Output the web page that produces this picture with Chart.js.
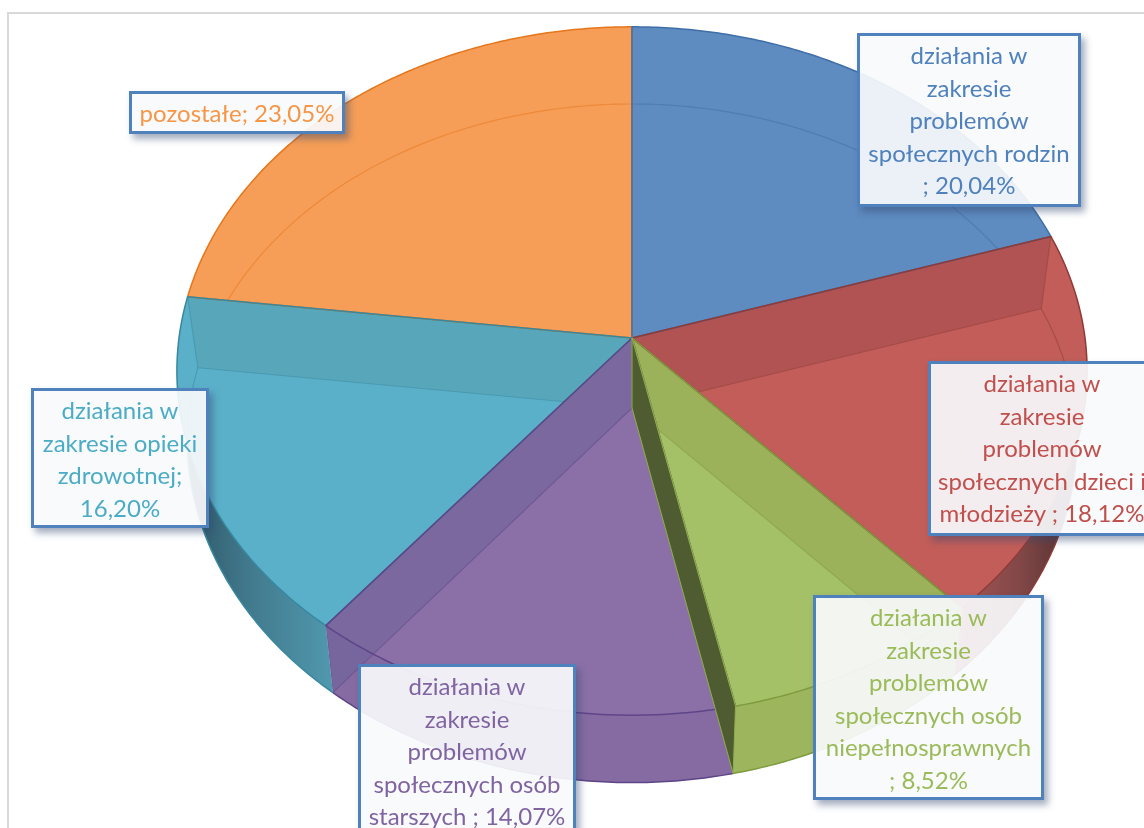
<!DOCTYPE html>
<html lang="pl">
<head>
<meta charset="utf-8">
<title>Struktura działań</title>
<script src="https://cdn.jsdelivr.net/npm/chart.js@4"></script>
<style>
html,body{margin:0;padding:0;background:#fff;overflow:hidden;width:1144px;height:828px}
#wrap{position:relative;width:1144px;height:828px;overflow:hidden}
#frame{position:absolute;left:7px;top:12px;width:1200px;height:900px;border:2px solid #D9D9D9;box-sizing:border-box}
canvas{position:absolute;left:0;top:0}
.lbl{position:absolute;box-sizing:border-box;border:3px solid #4F81BD;background:rgba(248,250,252,.92);
 box-shadow:4px 5px 7px rgba(50,70,110,.45);text-align:center;white-space:pre;
 font:24px/32.6px Lato,sans-serif;padding-top:3px}
</style>
</head>
<body>
<div id="wrap">
<div id="frame"></div>
<canvas id="c" width="1144" height="828"></canvas>
</div>
<script>
// ---- data ----
const categories = [
  "działania w\nzakresie\nproblemów\nspołecznych rodzin\n; ",
  "działania w\nzakresie\nproblemów\nspołecznych dzieci i\nmłodzieży ; ",
  "działania w\nzakresie\nproblemów\nspołecznych osób\nniepełnosprawnych\n; ",
  "działania w\nzakresie\nproblemów\nspołecznych osób\nstarszych ; ",
  "działania w\nzakresie opieki\nzdrowotnej;\n",
  "pozostałe; "
];
const shares = [20.04, 18.12, 8.52, 14.07, 16.20, 23.05];

// ---- styles ----
const faceColors = ["#5E8BC0", "#C25D59", "#A5C167", "#8B70A7", "#5BB0C9", "#F69E57"];
const edgeColors = ["#3F6FA8", "#8E3B38", "#7E9C3E", "#5E4488", "#37889F", "#E5761B"];
const wallColors = ["#557FB0", "#A05555", "#9DB65E", "#856BA2", "#4F95AB", "#E08A45"];
const textColors = ["#4F81BD", "#C0504D", "#9BBB59", "#8064A2", "#4BACC6", "#F79646"];
const outlineOrder = [5, 0, 1, 4, 3, 2];
const boxes = [
  {l:857, t:33,  w:224, h:174},
  {l:928, t:361, w:228, h:175},
  {l:813, t:595, w:231, h:205},
  {l:358, t:664, w:218, h:175},
  {l:31,  t:388, w:178, h:140},
  {l:129, t:91,  w:216, h:43}
];

// perspective of the tilted disc
const CX = 632, CY = 338, RX = 453, RY = 341, PERSP = -0.0959, DEPTH = 70, SHRINK = 0.023;
function project(angle, t, f) {
  const u = Math.cos(angle) * f, v = Math.sin(angle) * f, w = 1 + PERSP * v;
  const sx = 1 - SHRINK * t, sy = 1 - SHRINK * t * (1 - 0.7 * Math.max(0, v));
  return [CX + sx * RX * u / w, CY + DEPTH * t + sy * RY * v / w];
}
function rim(ctx, from, to, t, first) {
  const n = Math.max(2, Math.ceil(Math.abs(to - from) / 0.01));
  for (let i = 0; i <= n; i++) {
    const p = project(from + (to - from) * i / n, t, 1);
    if (i === 0 && first) ctx.moveTo(p[0], p[1]); else ctx.lineTo(p[0], p[1]);
  }
}
function topPath(ctx, a) {
  const c = project(0, 0, 0);
  ctx.beginPath(); ctx.moveTo(c[0], c[1]);
  rim(ctx, a.startAngle, a.endAngle, 0, false);
  ctx.closePath();
}
function wallPath(ctx, a) {
  ctx.beginPath();
  rim(ctx, a.startAngle, a.endAngle, 0, true);
  rim(ctx, a.endAngle, a.startAngle, 1, false);
  ctx.closePath();
}
function quad(ctx, angle) {
  const p0 = project(0, 0, 0), p1 = project(angle, 0, 1), p2 = project(angle, 1, 1), p3 = project(0, 1, 0);
  ctx.beginPath(); ctx.moveTo(p0[0], p0[1]); ctx.lineTo(p1[0], p1[1]); ctx.lineTo(p2[0], p2[1]); ctx.lineTo(p3[0], p3[1]); ctx.closePath();
}
function wallFill(ctx, i) {
  if (i === 4) { const g = ctx.createLinearGradient(190, 0, 335, 0);
    g.addColorStop(0, "#2F5A69"); g.addColorStop(.4, "#41798C"); g.addColorStop(1, "#5199AF"); return g; }
  if (i === 1) { const g = ctx.createLinearGradient(960, 0, 1075, 0);
    g.addColorStop(0, "#A55656"); g.addColorStop(.55, "#804646"); g.addColorStop(1, "#4F2F2F"); return g; }
  return wallColors[i];
}
// which radial faces show through the slice
const seeThrough = [{i:1, edge:"startAngle", c:"rgb(158,73,75)"}, {i:2, edge:"startAngle", c:"rgb(145,161,77)"},
                    {i:3, edge:"endAngle", c:"rgb(105,96,151)"}, {i:4, edge:"endAngle", c:"rgb(85,156,169)"}];

const disc3d = {
  id: "disc3d",
  beforeDatasetDraw(chart) {
    const ctx = chart.ctx, arcs = chart.getDatasetMeta(0).data;
    ctx.save();
    ctx.lineJoin = "round";
    // side walls
    arcs.forEach((a, i) => {
      wallPath(ctx, a); ctx.fillStyle = wallFill(ctx, i); ctx.fill();
      ctx.beginPath(); rim(ctx, a.startAngle, a.endAngle, 1, true);
      ctx.strokeStyle = a.options.borderColor; ctx.lineWidth = 1.5; ctx.stroke();
    });
    // faces
    arcs.forEach(a => { topPath(ctx, a); ctx.fillStyle = a.options.backgroundColor; ctx.fill(); });
    // see-through radial faces
    seeThrough.forEach(s => {
      const a = arcs[s.i];
      ctx.save();
      ctx.beginPath();
      const c = project(0, 0, 0); ctx.moveTo(c[0], c[1]);
      rim(ctx, a.startAngle, a.endAngle, 0, false); ctx.closePath();
      rim(ctx, a.startAngle, a.endAngle, 0, true); rim(ctx, a.endAngle, a.startAngle, 1, false); ctx.closePath();
      ctx.clip("nonzero");
      quad(ctx, a[s.edge]); ctx.globalAlpha = .5; ctx.fillStyle = s.c; ctx.fill();
      ctx.globalAlpha = .45; ctx.strokeStyle = a.options.borderColor; ctx.lineWidth = 1.2; ctx.stroke();
      ctx.restore();
    });
    // far rim seen through the faces
    [0, 1, 5, 4].forEach(i => {
      const a = arcs[i];
      ctx.save(); topPath(ctx, a); ctx.clip();
      ctx.beginPath(); rim(ctx, a.startAngle, a.endAngle, 1, true);
      ctx.globalAlpha = .5; ctx.strokeStyle = a.options.borderColor; ctx.lineWidth = 1.2; ctx.stroke();
      ctx.restore();
    });
    // face outlines
    outlineOrder.forEach(i => {
      const a = arcs[i];
      topPath(ctx, a); ctx.strokeStyle = a.options.borderColor; ctx.lineWidth = a.options.borderWidth; ctx.stroke();
    });
    // front radial face of the small slice
    const g = arcs[2];
    quad(ctx, g.endAngle); ctx.fillStyle = "#4F5B30"; ctx.fill();
    ctx.strokeStyle = "#8FAE4A"; ctx.lineWidth = 1; ctx.stroke();
    ctx.restore();
    return false;
  }
};

new Chart(document.getElementById("c"), {
  type: "pie",
  data: { labels: categories, datasets: [{ data: shares, backgroundColor: faceColors, borderColor: edgeColors, borderWidth: 1.5 }] },
  options: {
    responsive: false, animation: false, rotation: 0,
    events: [],
    plugins: { legend: { display: false }, tooltip: { enabled: false } }
  },
  plugins: [disc3d]
});

// data labels
const wrap = document.getElementById("wrap");
categories.forEach((name, i) => {
  const d = document.createElement("div"), b = boxes[i];
  d.className = "lbl";
  d.style.cssText = `left:${b.l}px;top:${b.t}px;width:${b.w}px;height:${b.h}px;color:${textColors[i]}`;
  d.textContent = name + shares[i].toFixed(2).replace(".", ",") + "%";
  wrap.appendChild(d);
});
</script>
</body>
</html>
